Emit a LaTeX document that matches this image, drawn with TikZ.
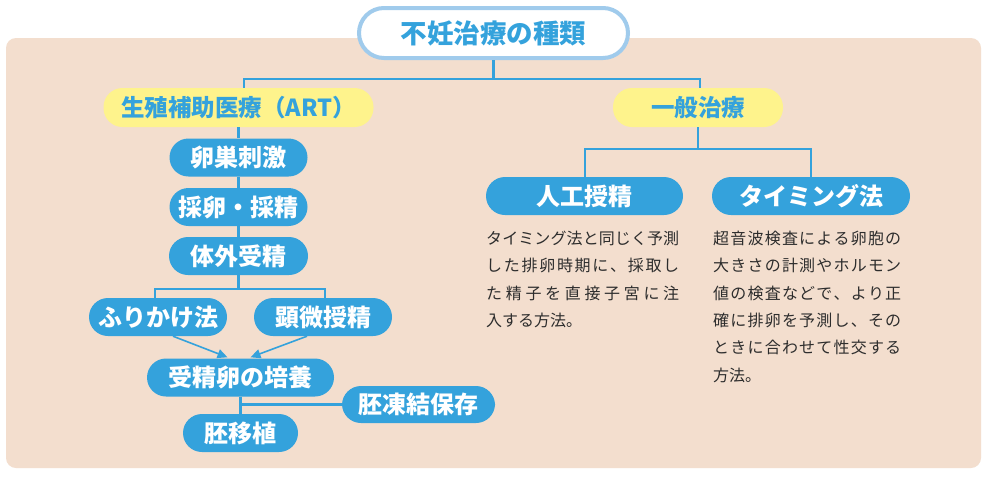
\documentclass[tikz,border=0pt]{standalone}
\usepackage{fontspec}
\usetikzlibrary{arrows.meta}
\newfontfamily\jp{Noto Sans CJK JP}
\definecolor{cblue}{RGB}{52,162,220}
\definecolor{cyel}{RGB}{254,243,140}
\definecolor{cbg}{RGB}{243,222,206}
\definecolor{ctb}{RGB}{160,203,236}
\definecolor{ctxt}{RGB}{45,45,45}
\def\sploop#1{\ifx#1\relax\else#1\hfill\expandafter\sploop\fi}
\newcommand\jline[2]{\makebox[#1][s]{\sploop#2\relax\unskip}}
\tikzset{
  bbox/.style={fill=cblue, text=white, font=\jp\bfseries\fontsize{24}{24}\selectfont,
    rounded corners=19pt, inner sep=0pt, minimum height=38pt},
  ybox/.style={fill=cyel, text=cblue, font=\jp\bfseries\fontsize{23.5}{23.5}\selectfont,
    rounded corners=19pt, inner sep=0pt, minimum height=39pt},
  conn/.style={draw=cblue, line width=2.5pt},
  arr/.style={draw=cblue, line width=1.6pt, -{Triangle[length=10pt,width=9pt]}},
  para/.style={text=ctxt, font=\jp\fontsize{16}{27.3}\selectfont, inner sep=0pt, anchor=north west, align=left}
}
\begin{document}
\begin{tikzpicture}[x=1pt,y=-1pt]
\useasboundingbox (0,0) rectangle (1000,485);
\fill[white] (0,0) rectangle (1000,485);
\fill[cbg, rounded corners=10pt] (6,38) rectangle (981,468);

% title
\node[draw=ctb, line width=4pt, fill=white, rounded corners=25pt, minimum width=269pt, minimum height=50pt, inner sep=0pt,
  text=cblue, font=\jp\bfseries\fontsize{26.5}{26.5}\selectfont] (title) at (493.5,33) {不妊治療の種類};

% level 1
\node[ybox, minimum width=270pt] (art) at (238.5,107.5) {生殖補助医療（ART）};
\node[ybox, minimum width=170pt] (gen) at (698,107.5) {一般治療};

% left tree
\node[bbox, minimum width=138pt] (ovs) at (238.5,157.5) {卵巣刺激};
\node[bbox, minimum width=138pt] (egg) at (238.5,207) {採卵・採精};
\node[bbox, minimum width=139pt] (ivf) at (238.5,256) {体外受精};
\node[bbox, minimum width=138pt] (furi) at (158,317) {ふりかけ法};
\node[bbox, minimum width=138pt] (icsi) at (323,317) {顕微授精};
\node[bbox, minimum width=187pt] (cult) at (240.5,377.5) {受精卵の培養};
\node[bbox, minimum width=153pt, minimum height=37pt] (frz) at (418.5,404.5) {胚凍結保存};
\node[bbox, minimum width=115pt] (et) at (240.5,433) {胚移植};

% right tree
\node[bbox, minimum width=197pt] (ai) at (584.5,196) {人工授精};
\node[bbox, minimum width=198pt] (tim) at (811,196) {タイミング法};

% junction coordinates
\coordinate (jl) at (244,79);
\coordinate (jr) at (700,79);
\coordinate (jf) at (155,289);
\coordinate (ji) at (325,289);
\coordinate (ja) at (585,149);
\coordinate (jt) at (811,149);

% connectors
\draw[conn] (title.south) -- (title.south |- jl);
\draw[conn] (art.north -| jl) -- (jl) -- (jr) -- (gen.north -| jr);
\draw[conn] (art.south) -- (ovs.north);
\draw[conn] (ovs.south) -- (egg.north);
\draw[conn] (egg.south) -- (ivf.north);
\draw[conn] (ivf.south) -- (ivf.south |- jf);
\draw[conn] (furi.north -| jf) -- (jf) -- (ji) -- (icsi.north -| ji);
\draw[arr] ([xshift=15pt]furi.south) -- ([xshift=-13pt,yshift=1pt]cult.north);
\draw[arr] ([xshift=-16pt]icsi.south) -- ([xshift=10pt,yshift=1pt]cult.north);
\draw[conn] (cult.south) -- (et.north);
\draw[conn] (cult.south |- frz.west) -- (frz.west);
\draw[conn] (gen.south) -- (gen.south |- ja);
\draw[conn] (ai.north -| ja) -- (ja) -- (jt) -- (tim.north -| jt);

% descriptions
\node[para] (pa) at (486,231) {\jline{193pt}{タイミング法と同じく予測}\\
\jline{193pt}{した排卵時期に、採取し}\\
\jline{193pt}{た精子を直接子宮に注}\\
入する方法。};
\node[para] (pb) at (713,231) {\jline{188pt}{超音波検査による卵胞の}\\
\jline{188pt}{大きさの計測やホルモン}\\
\jline{188pt}{値の検査などで、より正}\\
\jline{188pt}{確に排卵を予測し、その}\\
\jline{188pt}{ときに合わせて性交する}\\
方法。};
\end{tikzpicture}
\end{document}
